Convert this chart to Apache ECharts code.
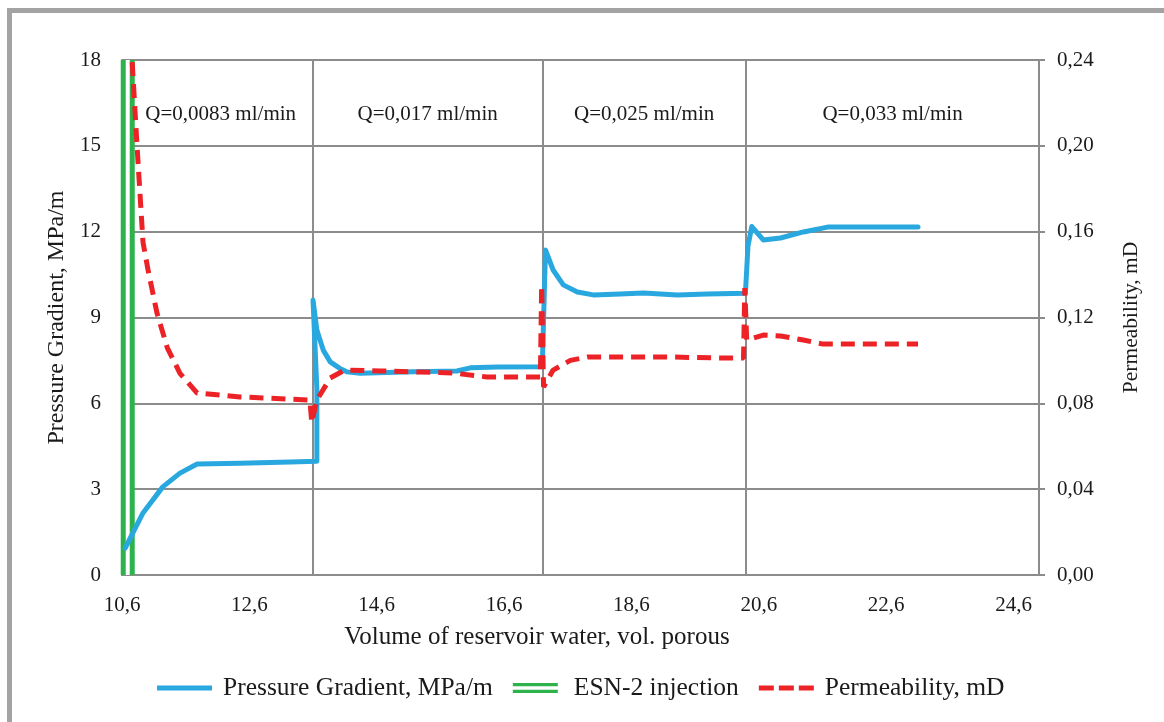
<!DOCTYPE html>
<html>
<head>
<meta charset="utf-8">
<script src="https://cdn.jsdelivr.net/npm/echarts@6/dist/echarts.min.js"></script>
<style>
html,body{margin:0;padding:0;background:#fff;}
#chart{width:1164px;height:722px;}
</style>
</head>
<body>
<div id="chart"></div>
<script>
// ---- data (x: volume of reservoir water, vol. porous) ----
const X_MIN = 10.6;
const X_MAX = 25.0;
const xTickStep = 2;

const pgX = [10.65,10.77,10.93,11.24,11.51,11.78,12.45,13.24,13.66,13.66,13.6,13.66,13.76,13.87,14.02,14.13,14.34,15.17,15.86,16.07,16.49,17.2,17.23,17.25,17.37,17.53,17.75,18.0,18.42,18.79,19.32,19.79,20.39,20.43,20.49,20.67,20.94,21.3,21.68,23.1];
const pgY = [0.94,1.47,2.17,3.08,3.56,3.88,3.91,3.95,3.98,6.5,9.6,8.56,7.86,7.45,7.22,7.1,7.05,7.1,7.13,7.24,7.27,7.28,7.28,11.36,10.66,10.14,9.89,9.79,9.82,9.86,9.79,9.82,9.85,11.5,12.18,11.71,11.78,11.99,12.16,12.16];

const permX = [10.76,10.84,10.93,11.01,11.15,11.31,11.51,11.78,12.45,13.55,13.58,13.66,13.87,14.07,14.13,14.65,15.28,15.8,16.33,17.06,17.17,17.19,17.22,17.37,17.64,17.91,18.42,19.21,20.0,20.36,20.38,20.41,20.67,20.94,21.3,21.61,23.1];
const permY = [0.239,0.198,0.155,0.142,0.122,0.106,0.094,0.0848,0.083,0.0815,0.071,0.0815,0.0918,0.0951,0.0955,0.0951,0.0946,0.0941,0.0923,0.0923,0.0923,0.135,0.0876,0.0955,0.100,0.1016,0.1016,0.1016,0.1011,0.1011,0.1337,0.1095,0.1118,0.1114,0.1095,0.1076,0.1076];

const esnX = [10.69, 10.69];
const esnY = [0, 18];

const dividers = [13.6, 17.2, 20.4];
const sectionStarts = [10.7, 13.6, 17.2, 20.4];
const sectionEnds = [13.6, 17.2, 20.4, 25.0];
const sectionLabels = ['Q=0,0083 ml/min', 'Q=0,017 ml/min', 'Q=0,025 ml/min', 'Q=0,033 ml/min'];

const leftTicks = {min: 0, max: 18, step: 3};
const rightTicks = {min: 0, max: 0.24, step: 0.04};

// ---- build ----
const off = v => +(v - X_MIN).toFixed(4);
const pairs = (xs, ys) => xs.map((x, i) => [off(x), ys[i]]);

const FONT = "'Liberation Serif','Times New Roman',serif";
const TXT = '#1a1a1a';
const GRID = '#8c8c8c';
const BLUE = '#29a8df';
const RED = '#ec2227';
const GREEN = '#2db24c';

const chart = echarts.init(document.getElementById('chart'), null, {renderer: 'canvas'});
chart.setOption({
  backgroundColor: '#ffffff',
  animation: false,
  textStyle: {fontFamily: FONT},
  graphic: [{
    type: 'rect', silent: true, z: 100,
    shape: {x: 9.5, y: 10.5, width: 1300, height: 900},
    style: {fill: 'none', stroke: '#a3a3a3', lineWidth: 5}
  }],
  grid: {left: 122, right: 125, top: 60, bottom: 147, containLabel: false},
  legend: {
    left: 152, top: 670,
    itemWidth: 55, itemHeight: 10, itemGap: 20,
    symbolKeepAspect: true,
    textStyle: {fontFamily: FONT, fontSize: 25.5, color: TXT, padding: [0, 0, 0, 6]},
    data: [
      {name: 'Pressure Gradient, MPa/m', icon: 'path://M0,0L55,0L55,5L0,5Z'},
      {name: 'ESN-2 injection', icon: 'path://M0,0L45,0L45,10L0,10Z M0,3.3L0,6.7L45,6.7L45,3.3Z'},
      {name: 'Permeability, mD', icon: 'path://M0,0L15,0L15,5L0,5Z M20,0L35,0L35,5L20,5Z M40,0L55,0L55,5L40,5Z'}
    ]
  },
  xAxis: {
    type: 'value', min: 0, max: off(X_MAX), interval: xTickStep,
    name: 'Volume of reservoir water, vol. porous',
    nameLocation: 'middle', nameGap: 50,
    nameTextStyle: {fontFamily: FONT, fontSize: 25, color: TXT, padding: [0, 87, 0, 0]},
    axisLine: {show: true, lineStyle: {color: GRID, width: 2}},
    axisTick: {show: false},
    splitLine: {show: false},
    axisLabel: {
      fontFamily: FONT, fontSize: 21, color: TXT, margin: 20, showMaxLabel: false,
      formatter: v => (v + X_MIN).toFixed(1).replace('.', ',')
    }
  },
  yAxis: [{
    type: 'value', min: leftTicks.min, max: leftTicks.max, interval: leftTicks.step,
    name: 'Pressure Gradient, MPa/m', nameLocation: 'middle', nameGap: 53,
    nameTextStyle: {fontFamily: FONT, fontSize: 24, color: TXT},
    axisLine: {show: true, lineStyle: {color: GRID, width: 2}},
    axisTick: {show: false},
    splitLine: {show: true, lineStyle: {color: GRID, width: 2}},
    axisLabel: {fontFamily: FONT, fontSize: 21, color: TXT, margin: 21}
  }, {
    type: 'value', min: rightTicks.min, max: rightTicks.max, interval: rightTicks.step,
    name: 'Permeability, mD', nameLocation: 'middle', nameGap: 81,
    nameTextStyle: {fontFamily: FONT, fontSize: 21.5, color: TXT},
    axisLine: {show: true, lineStyle: {color: GRID, width: 2}},
    axisTick: {show: true, length: 6, lineStyle: {color: GRID, width: 2}},
    splitLine: {show: false},
    axisLabel: {fontFamily: FONT, fontSize: 21, color: TXT, margin: 18,
      formatter: v => v.toFixed(2).replace('.', ',')}
  }],
  series: [{
    name: 'ESN-2 injection', type: 'line', yAxisIndex: 0, symbol: 'none', z: 3,
    data: pairs(esnX, esnY),
    lineStyle: {color: GREEN, width: 14}, itemStyle: {color: GREEN},
    markLine: {
      silent: true, symbol: 'none', label: {show: false},
      lineStyle: {color: GRID, width: 2, type: 'solid'},
      data: dividers.map(d => ({xAxis: off(d)}))
    },
    markArea: {
      silent: true,
      itemStyle: {color: 'rgba(0,0,0,0)'},
      label: {show: true, position: 'insideTop', distance: 44,
        fontFamily: FONT, fontSize: 21, color: TXT},
      data: sectionLabels.map((n, i) => [{name: n, xAxis: off(sectionStarts[i])}, {xAxis: off(sectionEnds[i])}])
    }
  }, {
    name: 'esn-inner', type: 'line', yAxisIndex: 0, symbol: 'none', z: 4,
    data: pairs(esnX, esnY),
    lineStyle: {color: '#ffffff', width: 4}, itemStyle: {color: '#ffffff'}
  }, {
    name: 'Pressure Gradient, MPa/m', type: 'line', yAxisIndex: 0, symbol: 'none', z: 5,
    data: pairs(pgX, pgY),
    lineStyle: {color: BLUE, width: 5, join: 'round', cap: 'round'}, itemStyle: {color: BLUE}
  }, {
    name: 'Permeability, mD', type: 'line', yAxisIndex: 1, symbol: 'none', z: 6,
    data: pairs(permX, permY),
    lineStyle: {color: RED, width: 5, type: [14, 8]}, itemStyle: {color: RED}
  }]
});
</script>
</body>
</html>
